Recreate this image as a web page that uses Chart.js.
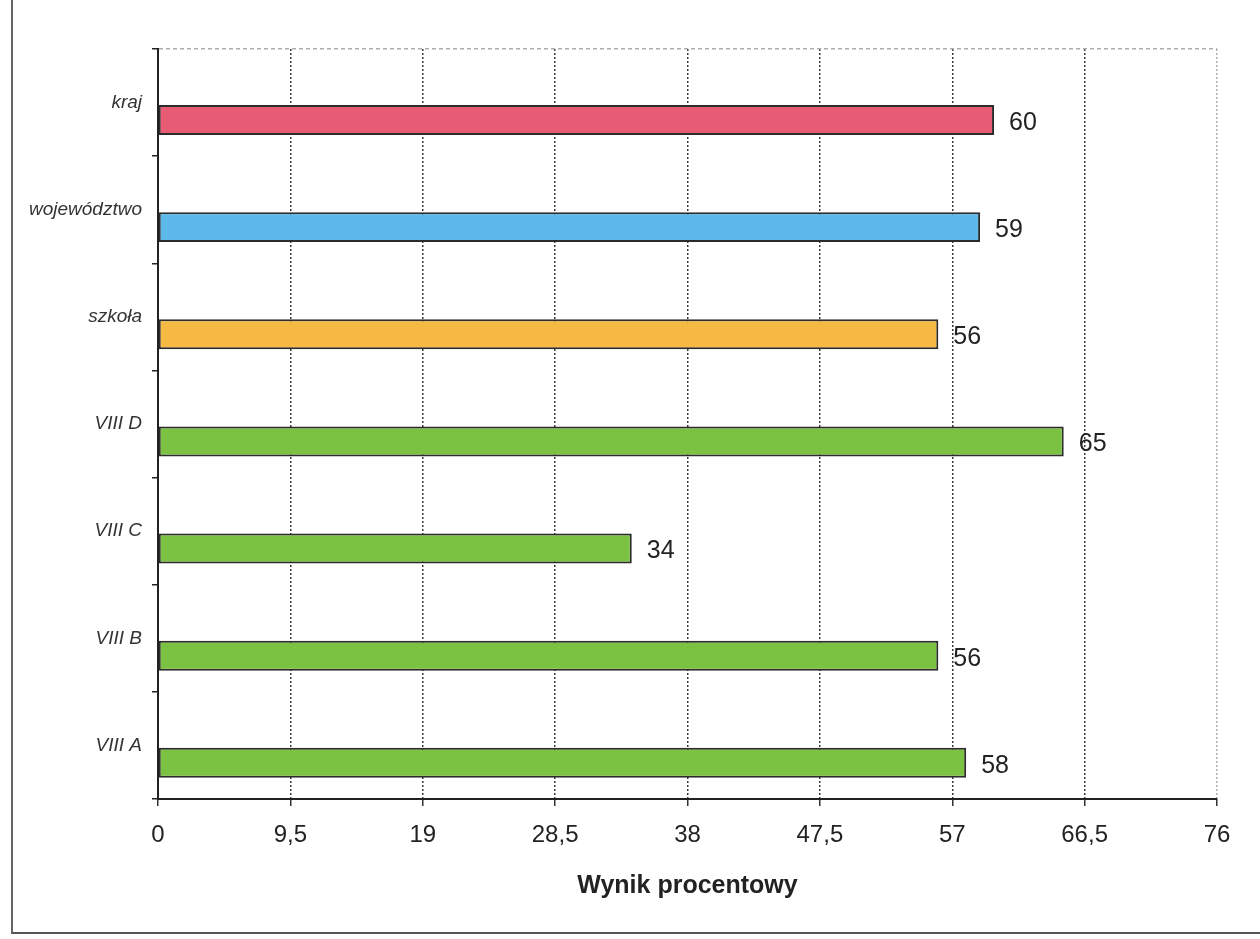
<!DOCTYPE html>
<html lang="pl">
<head>
  <meta charset="UTF-8">
  <title>Wynik procentowy</title>
  <script src="https://cdn.jsdelivr.net/npm/chart.js"></script>
  <style>
    body { margin: 0; background: #fff; }
    #wrap { position: relative; width: 1260px; height: 939px; overflow: hidden; }
    #frame { position: absolute; left: 11px; top: -5px; width: 1300px; height: 937px;
             border-left: 2px solid #666; border-bottom: 2px solid #555; }
  </style>
</head>
<body>
  <div id="wrap">
    <div id="frame"></div>
    <canvas id="chart" width="1260" height="939"></canvas>
  </div>

  <script>
    // data
    const categories = ['kraj', 'województwo', 'szkoła', 'VIII D', 'VIII C', 'VIII B', 'VIII A'];
    const scores = [60, 59, 56, 65, 34, 56, 58];
    const barColors = ['#e85b74', '#5cb9e9', '#f6b944', '#7cc242', '#7cc242', '#7cc242', '#7cc242'];
    const xTicks = [0, 9.5, 19, 28.5, 38, 47.5, 57, 66.5, 76];

    const FONT = "'Liberation Sans', Arial, sans-serif";

    // value labels to the right of each bar
    const valueLabels = {
      id: 'valueLabels',
      afterDatasetsDraw(chart) {
        const ctx = chart.ctx;
        const meta = chart.getDatasetMeta(1);
        ctx.save();
        ctx.font = '25px ' + FONT;
        ctx.fillStyle = '#222';
        ctx.textAlign = 'left';
        ctx.textBaseline = 'middle';
        meta.data.forEach((bar, i) => {
          ctx.fillText(String(scores[i]), bar.x + 15, bar.y + 3);
        });
        ctx.restore();
      }
    };

    new Chart(document.getElementById('chart'), {
      type: 'bar',
      data: {
        labels: categories,
        datasets: [
          // empty first series: Excel left this slot, bars sit below the label
          { data: categories.map(() => null), backgroundColor: 'transparent' },
          {
            data: scores,
            backgroundColor: barColors,
            borderColor: '#2b2b2b',
            borderWidth: 2,
            borderSkipped: false
          }
        ]
      },
      options: {
        indexAxis: 'y',
        responsive: false,
        animation: false,
        categoryPercentage: 0.65,
        barPercentage: 0.86,
        layout: { padding: { left: 0, right: 43, top: 49, bottom: 28 } },
        plugins: { legend: { display: false }, tooltip: { enabled: false } },
        scales: {
          x: {
            min: 0,
            max: 76,
            afterBuildTicks: s => { s.ticks = xTicks.map(v => ({ value: v })); },
            afterFit: s => { s.height = 112; },
            ticks: {
              font: { family: FONT, size: 24 },
              color: '#222',
              padding: 15,
              maxRotation: 0,
              callback: v => String(v).replace('.', ',')
            },
            grid: {
              color: c => c.index === xTicks.length - 1 ? '#a8b0b4' : '#3a3a3a',
              lineWidth: 1.5,
              tickLength: 7,
              tickColor: '#333'
            },
            border: { display: true, color: '#222', width: 2, dash: [2, 2] },
            title: {
              display: true,
              text: 'Wynik procentowy',
              font: { family: FONT, size: 25, weight: 'bold' },
              color: '#222',
              padding: { top: 0, bottom: 10 }
            }
          },
          y: {
            afterFit: s => { s.width = 158; },
            ticks: {
              font: { family: FONT, size: 19, style: 'italic' },
              color: '#333',
              padding: 10
            },
            grid: {
              drawOnChartArea: true,
              color: c => c.index === 0 ? '#a8b0b4' : 'transparent',
              lineWidth: 1.5,
              tickLength: 6,
              tickColor: '#222',
              tickWidth: 1.5
            },
            border: { display: true, color: '#222', width: 2, dash: [4, 3] }
          }
        }
      },
      plugins: [valueLabels]
    });
  </script>
</body>
</html>
